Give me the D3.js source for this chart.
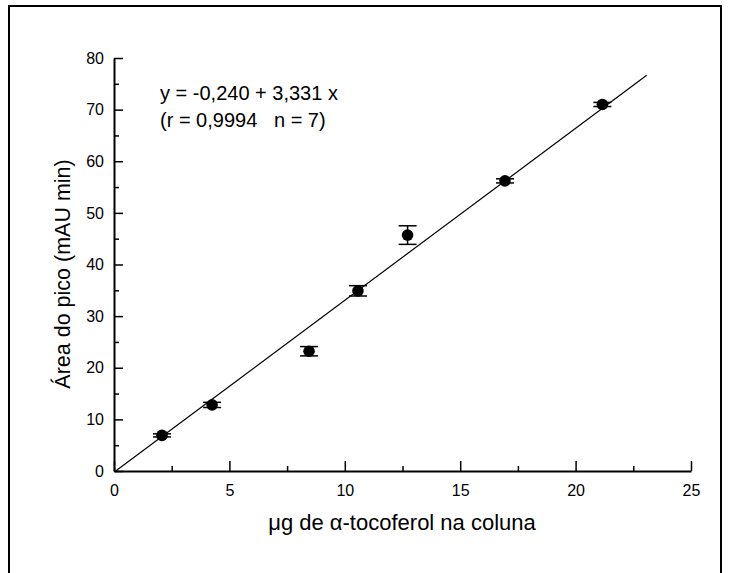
<!DOCTYPE html>
<html><head><meta charset="utf-8">
<script src="https://cdn.jsdelivr.net/npm/d3@7"></script>
<style>body{margin:0;background:#fff}svg{display:block}text{font-family:"Liberation Sans",Arial,sans-serif;fill:#000}</style>
</head><body>
<svg id="c" width="729" height="573"></svg>
<script>
const xValues = [2.08, 4.25, 8.45, 10.57, 12.72, 16.94, 21.16];
const yValues = [6.9, 12.8, 23.2, 34.9, 45.7, 56.2, 71.0];
const yErrors = [0.3, 0.5, 0.9, 1.0, 1.8, 0.4, 0.4];
const xTicks = [0, 5, 10, 15, 20, 25];
const yTicks = [0, 10, 20, 30, 40, 50, 60, 70, 80];
const intercept = -0.240, slope = 3.331;
const fitRange = [0.072, 23.08];
const equationLines = ["y = -0,240 + 3,331 x", "(r = 0,9994   n = 7)"];
const xTitle = "μg de α-tocoferol na coluna";
const yTitle = "Área do pico (mAU min)";

const svg = d3.select("#c");
svg.append("rect").attr("x",9).attr("y",6).attr("width",712).attr("height",620)
  .attr("fill","none").attr("stroke","#000").attr("stroke-width",2);

const x = d3.scaleLinear().domain([0,25]).range([114,691]);
const y = d3.scaleLinear().domain([0,80]).range([471,58]);

const xAxis = d3.axisBottom(x).tickValues(xTicks).tickSize(-10).tickPadding(25).tickSizeOuter(0);
const gx = svg.append("g").attr("transform","translate(0,471)").call(xAxis);
gx.selectAll("text").attr("font-size",16).attr("dy","0");
gx.select(".domain").attr("stroke-width",2);
gx.selectAll(".tick line").attr("stroke-width",1.5);
svg.append("g").attr("transform","translate(0,471)")
  .call(d3.axisBottom(x).tickValues(d3.range(2.5,25,5)).tickSize(-5).tickFormat("").tickSizeOuter(0))
  .call(g=>{g.select(".domain").remove(); g.selectAll("line").attr("stroke-width",1.5);});

const yAxis = d3.axisLeft(y).tickValues(yTicks).tickSize(-9).tickPadding(10).tickSizeOuter(0);
const gy = svg.append("g").attr("transform","translate(114,0)").call(yAxis);
gy.selectAll("text").attr("font-size",16);
gy.select(".domain").attr("stroke-width",2);
gy.selectAll(".tick line").attr("stroke-width",1.5);
svg.append("g").attr("transform","translate(114,0)")
  .call(d3.axisLeft(y).tickValues(d3.range(5,80,10)).tickSize(-5).tickFormat("").tickSizeOuter(0))
  .call(g=>{g.select(".domain").remove(); g.selectAll("line").attr("stroke-width",1.5);});

svg.append("line")
  .attr("x1",x(fitRange[0])).attr("y1",y(intercept+slope*fitRange[0]))
  .attr("x2",x(fitRange[1])).attr("y2",y(intercept+slope*fitRange[1]))
  .attr("stroke","#000").attr("stroke-width",1.2);

const data = xValues.map((v,i)=>({x:v,y:yValues[i],e:yErrors[i]}));
const eb = svg.append("g").attr("stroke","#000").attr("stroke-width",1.5);
data.forEach(d=>{
  eb.append("line").attr("x1",x(d.x)).attr("x2",x(d.x)).attr("y1",y(d.y-d.e)).attr("y2",y(d.y+d.e));
  [d.y-d.e,d.y+d.e].forEach(v=>eb.append("line").attr("x1",x(d.x)-9).attr("x2",x(d.x)+9).attr("y1",y(v)).attr("y2",y(v)));
});
svg.append("g").selectAll("circle").data(data).join("circle")
  .attr("cx",d=>x(d.x)).attr("cy",d=>y(d.y)).attr("r",5.8).attr("fill","#000");

svg.append("g").selectAll("text").data(equationLines).join("text")
  .attr("x",160).attr("y",(d,i)=>100+i*27).attr("font-size",20).style("white-space","pre").text(d=>d);

svg.append("text").attr("x",402).attr("y",530).attr("text-anchor","middle").attr("font-size",22).text(xTitle);
svg.append("text").attr("transform","translate(70,274) rotate(-90)").attr("text-anchor","middle").attr("font-size",21.5).text(yTitle);
</script>
</body></html>
